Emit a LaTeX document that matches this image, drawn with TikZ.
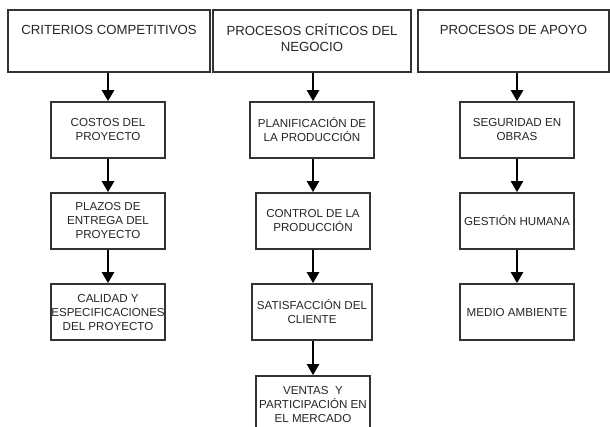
\documentclass[tikz,border=0pt]{standalone}
\usepackage{fontspec}
\setmainfont{Liberation Sans}
\usetikzlibrary{arrows.meta}
\definecolor{edge}{HTML}{333333}
\definecolor{ink}{HTML}{262626}
\tikzset{
  topbox/.style={draw=edge, line width=1.7pt, rectangle, inner sep=0pt},
  toptext/.style={inner sep=0pt, align=center, text=ink, font=\fontsize{13.2}{16.6}\selectfont},
  innerbox/.style={draw=edge, line width=1.7pt, rectangle, inner sep=0pt, align=center, text=ink,
     font=\fontsize{11.6}{14}\selectfont, minimum height=56pt},
  arr/.style={line width=2.4pt, -{Triangle[width=12pt,length=11pt]}, black}
}
\begin{document}
\begin{tikzpicture}[x=1pt,y=-1pt]
\useasboundingbox (0,0) rectangle (610,426);
\clip (0,0) rectangle (610,426);
\fill[white] (0,0) rectangle (610,426);
% top boxes
\node[topbox, minimum width=202pt, minimum height=62pt] (t1) at (109,41) {};
\node[topbox, minimum width=198pt, minimum height=62pt] (t2) at (312,41) {};
\node[topbox, minimum width=191pt, minimum height=62pt] (t3) at (513.5,41) {};
\node[toptext] (t1t) at (109,30) {CRITERIOS COMPETITIVOS};
\node[toptext] (t2t) at (312,38) {PROCESOS CRÍTICOS DEL\\NEGOCIO};
\node[toptext] (t3t) at (513.5,30) {PROCESOS DE APOYO};
% column 1
\node[innerbox, minimum width=114pt] (a1) at (108,130) {COSTOS DEL\\PROYECTO};
\node[innerbox, minimum width=114pt] (a2) at (108,221) {PLAZOS DE\\ENTREGA DEL\\PROYECTO};
\node[innerbox, minimum width=114pt] (a3) at (108,312) {CALIDAD Y\\ESPECIFICACIONES\\DEL PROYECTO};
% column 2
\node[innerbox, minimum width=124pt] (b1) at (312,130) {PLANIFICACIÓN DE\\LA PRODUCCIÓN};
\node[innerbox, minimum width=114pt] (b2) at (313,221) {CONTROL DE LA\\PRODUCCIÓN};
\node[innerbox, minimum width=120pt] (b3) at (312,312) {SATISFACCIÓN DEL\\CLIENTE};
\node[innerbox, minimum width=114pt] (b4) at (313,404) {VENTAS\ \ Y\\PARTICIPACIÓN EN\\EL MERCADO};
% column 3
\node[innerbox, minimum width=114pt] (c1) at (517,130) {SEGURIDAD EN\\OBRAS};
\node[innerbox, minimum width=114pt] (c2) at (517,221) {GESTIÓN HUMANA};
\node[innerbox, minimum width=114pt] (c3) at (517,312) {MEDIO AMBIENTE};
% arrows
\draw[arr] (t1.south -| a1.north) -- (a1.north);
\draw[arr] (a1) -- (a2);
\draw[arr] (a2) -- (a3);
\draw[arr] (t2.south -| b2.north) -- (b2.north |- b1.north);
\draw[arr] (b1.south -| b2.north) -- (b2.north);
\draw[arr] (b2) -- (b3.north -| b2.north);
\draw[arr] (b3.south -| b4.north) -- (b4.north);
\draw[arr] (t3.south -| c1.north) -- (c1.north);
\draw[arr] (c1) -- (c2);
\draw[arr] (c2) -- (c3);
\end{tikzpicture}
\end{document}
